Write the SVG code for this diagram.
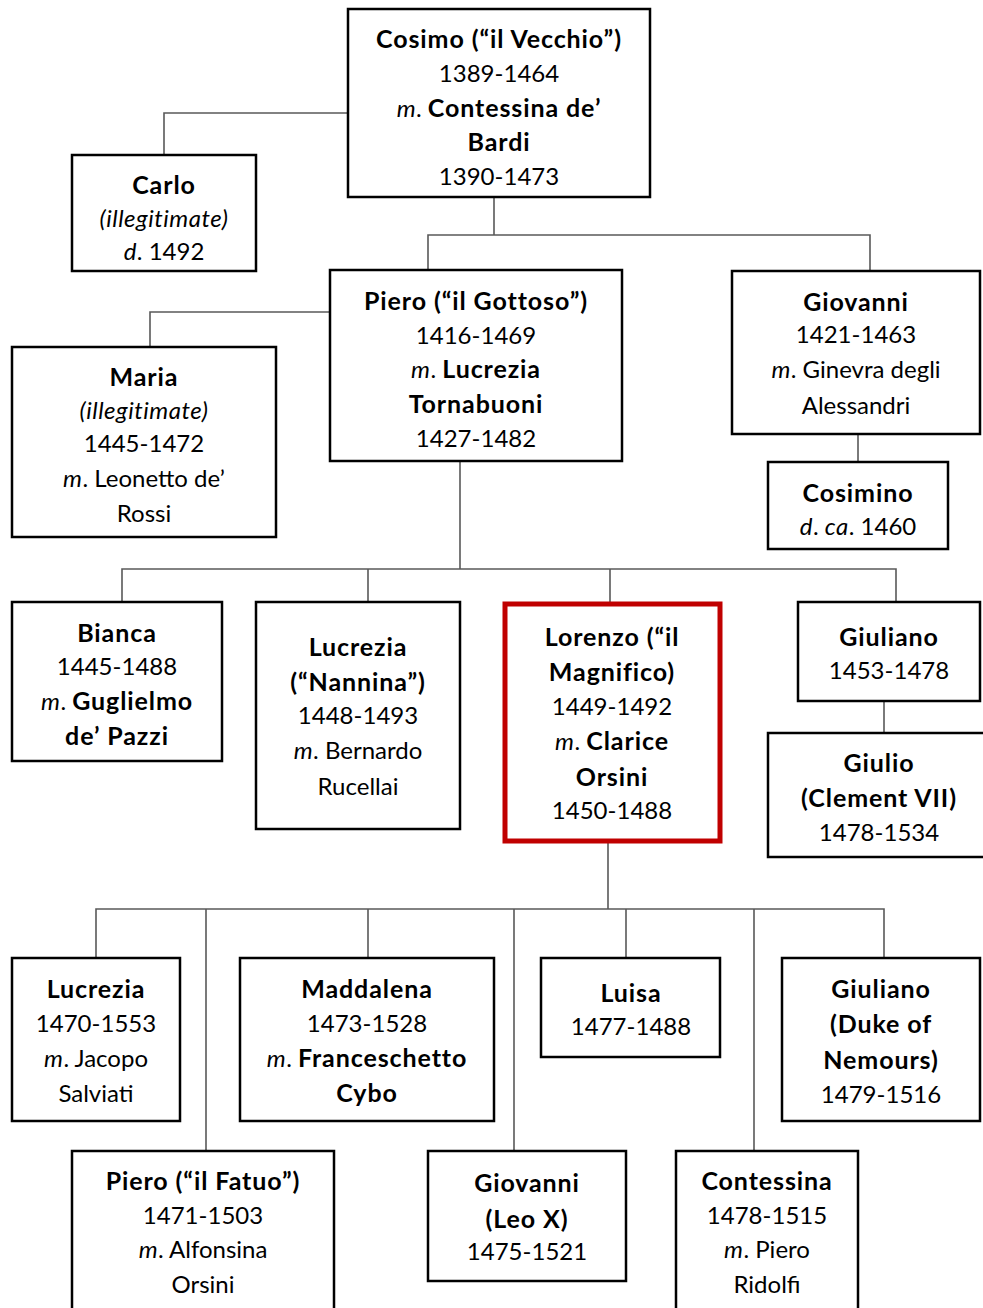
<svg xmlns="http://www.w3.org/2000/svg" width="983" height="1308" viewBox="0 0 983 1308">
<style>
.box{fill:#fff;stroke:#000;stroke-width:2.5}
.hl{fill:#fff;stroke:#C00000;stroke-width:5}
.c{fill:none;stroke:#595959;stroke-width:1.6}
text{font-family:Lato,"Open Sans","Liberation Sans",sans-serif;font-size:24px;text-anchor:middle;fill:#000}
.b{font-weight:bold;font-size:25px;letter-spacing:0.9px}
.i{font-style:italic;letter-spacing:0.5px}
</style>
<rect width="983" height="1308" fill="#fff"/>
<g id="connectors">
<path class="c" d="M348 113H164V155"/>
<path class="c" d="M494 197V235M428 270V235H870V270"/>
<path class="c" d="M330 312H150V347"/>
<path class="c" d="M858 434V462"/>
<path class="c" d="M460 461V569M122 602V569H896V602M368 569V602M610 569V604"/>
<path class="c" d="M884 701V733"/>
<path class="c" d="M608 841V909M96 958V909H884V958M206 909V1151M368 909V958M514 909V1151M626 909V958M754 909V1151"/>
</g>
<g id="cosimo">
<rect class="box" x="348" y="9" width="302" height="188"/>
<text x="499" y="48" class="b">Cosimo (“il Vecchio”)</text>
<text x="499" y="82">1389-1464</text>
<text x="499" y="117"><tspan class="i">m</tspan>. <tspan class="b">Contessina de’</tspan></text>
<text x="499" y="151" class="b">Bardi</text>
<text x="499" y="185">1390-1473</text>
</g>
<g id="carlo">
<rect class="box" x="72" y="155" width="184" height="116"/>
<text x="164" y="194" class="b">Carlo</text>
<text x="164" y="227" class="i">(illegitimate)</text>
<text x="164" y="260"><tspan class="i">d</tspan>. 1492</text>
</g>
<g id="piero">
<rect class="box" x="330" y="270" width="292" height="191"/>
<text x="476" y="310" class="b">Piero (“il Gottoso”)</text>
<text x="476" y="344">1416-1469</text>
<text x="476" y="378"><tspan class="i">m</tspan>. <tspan class="b">Lucrezia</tspan></text>
<text x="476" y="413" class="b">Tornabuoni</text>
<text x="476" y="447">1427-1482</text>
</g>
<g id="giovanni1">
<rect class="box" x="732" y="271" width="248" height="163"/>
<text x="856" y="311" class="b">Giovanni</text>
<text x="856" y="343">1421-1463</text>
<text x="856" y="378"><tspan class="i">m</tspan>. Ginevra degli</text>
<text x="856" y="414">Alessandri</text>
</g>
<g id="maria">
<rect class="box" x="12" y="347" width="264" height="190"/>
<text x="144" y="386" class="b">Maria</text>
<text x="144" y="419" class="i">(illegitimate)</text>
<text x="144" y="452">1445-1472</text>
<text x="144" y="487"><tspan class="i">m</tspan>. Leonetto de’</text>
<text x="144" y="522">Rossi</text>
</g>
<g id="cosimino">
<rect class="box" x="768" y="462" width="180" height="87"/>
<text x="858" y="502" class="b">Cosimino</text>
<text x="858" y="535"><tspan class="i">d</tspan>. <tspan class="i">ca</tspan>. 1460</text>
</g>
<g id="bianca">
<rect class="box" x="12" y="602" width="210" height="159"/>
<text x="117" y="642" class="b">Bianca</text>
<text x="117" y="675">1445-1488</text>
<text x="117" y="710"><tspan class="i">m</tspan>. <tspan class="b">Guglielmo</tspan></text>
<text x="117" y="745" class="b">de’ Pazzi</text>
</g>
<g id="lucrezia1">
<rect class="box" x="256" y="602" width="204" height="227"/>
<text x="358" y="656" class="b">Lucrezia</text>
<text x="358" y="691" class="b">(“Nannina”)</text>
<text x="358" y="724">1448-1493</text>
<text x="358" y="759"><tspan class="i">m</tspan>. Bernardo</text>
<text x="358" y="795">Rucellai</text>
</g>
<g id="lorenzo">
<rect class="hl" x="505" y="604" width="215" height="237"/>
<text x="612" y="646" class="b">Lorenzo (“il</text>
<text x="612" y="681" class="b">Magnifico)</text>
<text x="612" y="715">1449-1492</text>
<text x="612" y="750"><tspan class="i">m</tspan>. <tspan class="b">Clarice</tspan></text>
<text x="612" y="786" class="b">Orsini</text>
<text x="612" y="819">1450-1488</text>
</g>
<g id="giuliano1">
<rect class="box" x="798" y="602" width="182" height="99"/>
<text x="889" y="646" class="b">Giuliano</text>
<text x="889" y="679">1453-1478</text>
</g>
<g id="giulio">
<rect class="box" x="768" y="733" width="222" height="124"/>
<text x="879" y="772" class="b">Giulio</text>
<text x="879" y="807" class="b">(Clement VII)</text>
<text x="879" y="841">1478-1534</text>
</g>
<g id="lucrezia2">
<rect class="box" x="12" y="958" width="168" height="163"/>
<text x="96" y="998" class="b">Lucrezia</text>
<text x="96" y="1032">1470-1553</text>
<text x="96" y="1067"><tspan class="i">m</tspan>. Jacopo</text>
<text x="96" y="1102">Salviati</text>
</g>
<g id="maddalena">
<rect class="box" x="240" y="958" width="254" height="163"/>
<text x="367" y="998" class="b">Maddalena</text>
<text x="367" y="1032">1473-1528</text>
<text x="367" y="1067"><tspan class="i">m</tspan>. <tspan class="b">Franceschetto</tspan></text>
<text x="367" y="1102" class="b">Cybo</text>
</g>
<g id="luisa">
<rect class="box" x="541" y="958" width="179" height="99"/>
<text x="631" y="1002" class="b">Luisa</text>
<text x="631" y="1035">1477-1488</text>
</g>
<g id="giuliano2">
<rect class="box" x="782" y="958" width="198" height="163"/>
<text x="881" y="998" class="b">Giuliano</text>
<text x="881" y="1033" class="b">(Duke of</text>
<text x="881" y="1069" class="b">Nemours)</text>
<text x="881" y="1103">1479-1516</text>
</g>
<g id="piero2">
<rect class="box" x="72" y="1151" width="262" height="170"/>
<text x="203" y="1190" class="b">Piero (“il Fatuo”)</text>
<text x="203" y="1224">1471-1503</text>
<text x="203" y="1258"><tspan class="i">m</tspan>. Alfonsina</text>
<text x="203" y="1293">Orsini</text>
</g>
<g id="giovanni2">
<rect class="box" x="428" y="1151" width="198" height="130"/>
<text x="527" y="1192" class="b">Giovanni</text>
<text x="527" y="1228" class="b">(Leo X)</text>
<text x="527" y="1260">1475-1521</text>
</g>
<g id="contessina">
<rect class="box" x="676" y="1151" width="182" height="170"/>
<text x="767" y="1190" class="b">Contessina</text>
<text x="767" y="1224">1478-1515</text>
<text x="767" y="1258"><tspan class="i">m</tspan>. Piero</text>
<text x="767" y="1293">Ridolfi</text>
</g>
</svg>
